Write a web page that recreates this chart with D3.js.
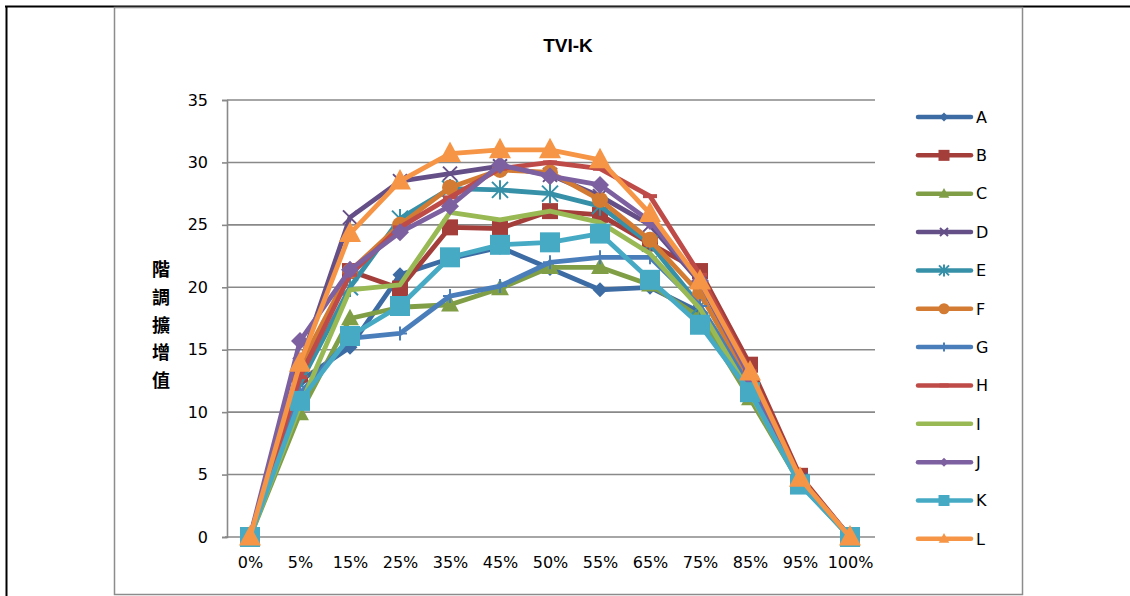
<!DOCTYPE html>
<html>
<head>
<meta charset="utf-8">
<script src="https://cdn.jsdelivr.net/npm/d3@7"></script>
<style>
  body { margin: 0; background: #fff; }
  svg text { font-family: "DejaVu Sans", sans-serif; fill: #000; }
</style>
</head>
<body>
<svg id="chart" width="1130" height="596"></svg>
<script>
// categories and series
var categories = ["0%", "5%", "15%", "25%", "35%", "45%", "50%", "55%", "65%", "75%", "85%", "95%", "100%"];
var yTicks = [0, 5, 10, 15, 20, 25, 30, 35];
var seriesNames = ["A", "B", "C", "D", "E", "F", "G", "H", "I", "J", "K", "L"];

var valuesA = [0, 12.5, 15.2, 21.0, 22.3, 23.2, 21.5, 19.8, 20.0, 18.0, 12.0, 4.4, 0];
var valuesB = [0, 13.0, 21.3, 19.9, 24.8, 24.7, 26.1, 25.8, 23.5, 21.3, 13.8, 4.9, 0];
var valuesC = [0, 9.9, 17.5, 18.4, 18.6, 19.9, 21.6, 21.6, 20.2, 17.6, 11.1, 4.3, 0];
var valuesD = [0, 13.8, 25.6, 28.5, 29.1, 29.7, 29.0, 27.3, 25.0, 20.4, 12.8, 4.6, 0];
var valuesE = [0, 12.3, 20.0, 25.5, 27.9, 27.8, 27.5, 26.5, 23.5, 18.5, 12.3, 4.4, 0];
var valuesF = [0, 13.7, 21.3, 25.0, 28.0, 29.4, 29.2, 27.0, 23.8, 19.5, 12.5, 4.5, 0];
var valuesG = [0, 11.5, 15.9, 16.3, 19.3, 20.1, 22.0, 22.4, 22.4, 18.5, 12.0, 4.4, 0];
var valuesH = [0, 12.8, 21.0, 24.8, 27.2, 29.5, 30.0, 29.5, 27.3, 21.0, 13.3, 4.7, 0];
var valuesI = [0, 10.5, 19.8, 20.2, 26.0, 25.4, 26.1, 25.2, 22.7, 18.3, 11.5, 4.3, 0];
var valuesJ = [0, 15.7, 21.4, 24.4, 26.5, 29.8, 28.9, 28.2, 25.3, 20.5, 12.8, 4.6, 0];
var valuesK = [0, 10.9, 16.1, 18.5, 22.4, 23.4, 23.6, 24.3, 20.6, 17.0, 11.6, 4.2, 0];
var valuesL = [0, 13.9, 24.3, 28.5, 30.7, 31.0, 31.0, 30.2, 25.9, 20.5, 13.2, 4.7, 0];

var allValues = [valuesA, valuesB, valuesC, valuesD, valuesE, valuesF,
                 valuesG, valuesH, valuesI, valuesJ, valuesK, valuesL];

// styling per series
var colors = ["#3D6BA3", "#A33E3B", "#7F9E46", "#654F87", "#3690A8", "#D37B33",
              "#4A7EBB", "#BE4B48", "#98B954", "#7D60A0", "#46AAC5", "#F69546"];
var markers = ["diamond", "square", "triangle", "x", "star", "circle",
               "plus", "dash", "none", "diamond", "square", "triangle"];
var markerSize = [7.5, 8, 8.5, 7, 8, 8, 7, 7, 0, 9, 10, 10.5];
var legendMarkerSize = [4.5, 5.5, 5, 4, 5, 5.5, 4.5, 4.5, 0, 4.5, 5.5, 5];

var svg = d3.select("#chart");

// outer frame
svg.append("line").attr("x1", 5).attr("x2", 1130).attr("y1", 6.5).attr("y2", 6.5)
  .attr("stroke", "#000").attr("stroke-width", 2);
svg.append("line").attr("x1", 6.5).attr("x2", 6.5).attr("y1", 6).attr("y2", 596)
  .attr("stroke", "#000").attr("stroke-width", 2);

// chart area
svg.append("rect").attr("x", 114.5).attr("y", 7.5).attr("width", 908).attr("height", 587)
  .attr("fill", "#fff").attr("stroke", "#8C8C8C").attr("stroke-width", 1.5);

var x = d3.scalePoint().domain(categories).range([225, 875]).padding(0.5);
var y = d3.scaleLinear().domain([0, 35]).range([537, 100]);

// gridlines
svg.append("g").selectAll("line").data(yTicks.slice(1)).enter().append("line")
  .attr("x1", 227).attr("x2", 875)
  .attr("y1", d => y(d)).attr("y2", d => y(d))
  .attr("stroke", "#898989").attr("stroke-width", 1.6);

// y axis
var yAxis = svg.append("g").attr("transform", "translate(227,0)")
  .call(d3.axisLeft(y).tickValues(yTicks).tickSize(5).tickPadding(14));
yAxis.select(".domain").attr("stroke", "#898989").attr("stroke-width", 1.6);
yAxis.selectAll(".tick line").attr("stroke", "#898989").attr("stroke-width", 1.6);
yAxis.selectAll("text").style("font-size", "16px");

// x axis
var xAxis = svg.append("g").attr("transform", "translate(0,537)")
  .call(d3.axisBottom(x).tickSize(0).tickPadding(20));
xAxis.select(".domain").attr("d", "M225,0H875").attr("stroke", "#898989").attr("stroke-width", 1.6);
xAxis.selectAll("text").style("font-size", "16px");

// title
svg.append("text").attr("x", 568).attr("y", 52).attr("text-anchor", "middle")
  .style("font-family", "Liberation Sans, Arial, sans-serif")
  .style("font-weight", "bold").style("font-size", "19px").text("TVI-K");

// y axis title, stacked characters
var yTitle = "階調擴增值".split("");
svg.append("g").selectAll("text").data(yTitle).enter().append("text")
  .attr("x", 161).attr("y", (d, i) => 276 + i * 27.8)
  .attr("text-anchor", "middle")
  .style("font-family", "Noto Sans CJK TC, sans-serif")
  .style("font-weight", "bold").style("font-size", "18px")
  .text(d => d);

function markerPath(type, r) {
  switch (type) {
    case "diamond": return "M0," + (-r) + "L" + r + ",0L0," + r + "L" + (-r) + ",0Z";
    case "square": return "M" + (-r) + "," + (-r) + "H" + r + "V" + r + "H" + (-r) + "Z";
    case "triangle": return "M0," + (-r * 1.15) + "L" + (r * 1.05) + "," + (r * 0.8) + "H" + (-r * 1.05) + "Z";
    case "circle": return d3.arc()({innerRadius: 0, outerRadius: r, startAngle: 0, endAngle: 2 * Math.PI});
    case "x": return "M" + (-r) + "," + (-r) + "L" + r + "," + r + "M" + r + "," + (-r) + "L" + (-r) + "," + r;
    case "star": return "M" + (-r) + "," + (-r) + "L" + r + "," + r + "M" + r + "," + (-r) + "L" + (-r) + "," + r +
      "M0," + (-r * 1.2) + "V" + (r * 1.2);
    case "plus": return "M0," + (-r) + "V" + r + "M" + (-r) + ",0H" + r;
    case "dash": return "M" + (-r) + ",0H" + r;
  }
  return "";
}
var strokeMarkers = {x: true, star: true, plus: true, dash: true};

function drawMarker(sel, type, r, color) {
  if (type === "none") return;
  var p = sel.append("path").attr("d", markerPath(type, r));
  if (strokeMarkers[type]) {
    p.attr("fill", "none").attr("stroke", color).attr("stroke-width", type === "dash" ? 4 : 2);
  } else {
    p.attr("fill", color);
  }
}

var line = d3.line().x((d, i) => x(categories[i])).y(d => y(d));

allValues.forEach(function(vals, si) {
  var g = svg.append("g");
  g.append("path").datum(vals)
    .attr("fill", "none").attr("stroke", colors[si]).attr("stroke-width", 4.8)
    .attr("stroke-linejoin", "round").attr("stroke-linecap", "round")
    .attr("d", line);
  vals.forEach(function(v, i) {
    var m = g.append("g").attr("transform", "translate(" + x(categories[i]) + "," + y(v) + ")");
    drawMarker(m, markers[si], markerSize[si], colors[si]);
  });
});

// legend
var legend = svg.append("g");
seriesNames.forEach(function(name, i) {
  var ly = 117 + i * 38.35;
  var item = legend.append("g").attr("transform", "translate(0," + ly + ")");
  item.append("line").attr("x1", 918).attr("x2", 971).attr("y1", 0).attr("y2", 0)
    .attr("stroke", colors[i]).attr("stroke-width", 4.5).attr("stroke-linecap", "round");
  var m = item.append("g").attr("transform", "translate(944,0)");
  drawMarker(m, markers[i], legendMarkerSize[i], colors[i]);
  item.append("text").attr("x", 976).attr("y", 0).attr("dy", "0.36em")
    .style("font-size", "16px").text(name);
});
</script>
</body>
</html>
